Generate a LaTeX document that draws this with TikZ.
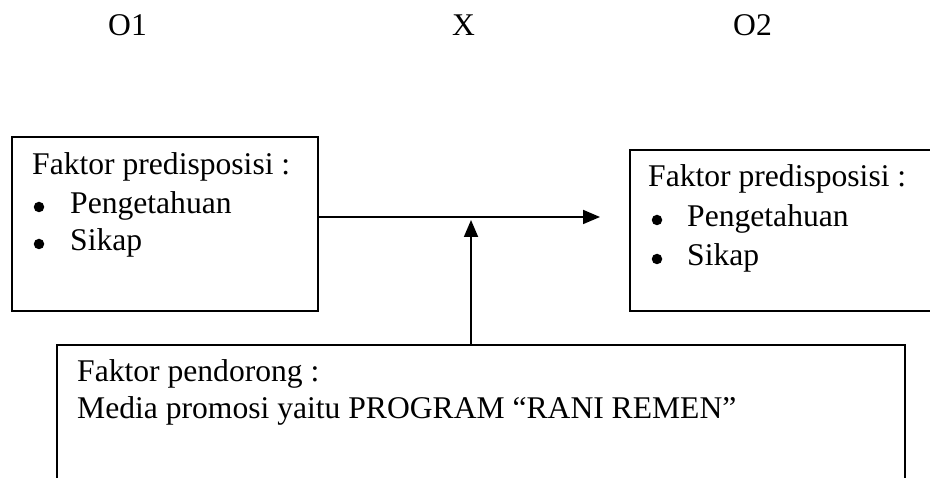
\documentclass[tikz,border=0pt]{standalone}
\usepackage{fontspec}
\setmainfont{Liberation Serif}
\usetikzlibrary{arrows.meta}
\begin{document}
\begin{tikzpicture}[x=1pt,y=-1pt,
  boxnode/.style={draw=black,line width=1.8pt,rectangle,inner sep=0pt,anchor=north west},
  txt/.style={anchor=base west,inner sep=0pt,font=\fontsize{31.6}{38}\selectfont},
  dot/.style={circle,fill=black,inner sep=0pt,minimum size=10.5pt},
  conn/.style={draw=black,line width=1.8pt,-{Triangle[length=17pt,width=14pt]}}]
\useasboundingbox (0,0) rectangle (930,478);
% top labels
\node[txt] (o1) at (108,36) {O1};
\node[txt] (x) at (452,36) {X};
\node[txt] (o2) at (733,36) {O2};
% boxes
\node[boxnode,minimum width=306pt,minimum height=174pt] (lbox) at (11,136) {};
\node[boxnode,minimum width=320pt,minimum height=161pt] (rbox) at (629,149) {};
\node[boxnode,minimum width=848pt,minimum height=160pt] (bbox) at (56,344) {};
% left box text
\node[txt] (l1) at (32,175) {Faktor predisposisi :};
\node[dot] (l2b) at (39,207) {};
\node[txt] (l2) at (70,214) {Pengetahuan};
\node[dot] (l3b) at (39,244) {};
\node[txt] (l3) at (70,251) {Sikap};
% right box text
\node[txt] (r1) at (648,187) {Faktor predisposisi :};
\node[dot] (r2b) at (657,220) {};
\node[txt] (r2) at (687,227) {Pengetahuan};
\node[dot] (r3b) at (657,259) {};
\node[txt] (r3) at (687,266) {Sikap};
% bottom box text
\node[txt] (b1) at (77,382) {Faktor pendorong :};
\node[txt] (b2) at (77,419) {Media promosi yaitu PROGRAM “RANI REMEN”};
% connectors
\coordinate (htip) at (600,217);
\coordinate (vtip) at (471,220);
\draw[conn] (lbox.east |- htip) -- (htip);
\draw[conn] (bbox.north -| vtip) -- (vtip);
\end{tikzpicture}
\end{document}
